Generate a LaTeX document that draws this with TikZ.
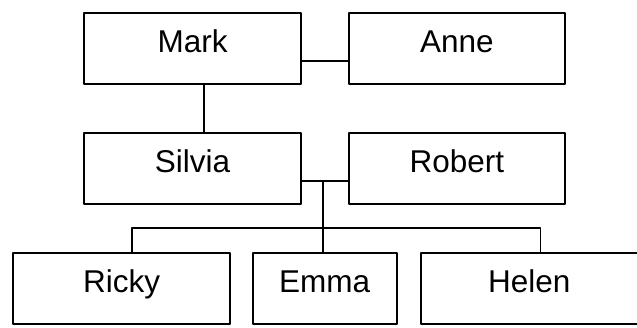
\documentclass[tikz,border=0pt]{standalone}
\usepackage{fontspec}
\setmainfont{Liberation Sans}
\begin{document}
\begin{tikzpicture}[x=1pt,y=-1pt,line join=round,
	person/.style={draw,line width=2pt,rectangle,inner sep=0pt,anchor=north west,
		minimum width=216.5pt,text height=40pt,text depth=31.6pt,
		font=\fontsize{31.5}{36}\selectfont},
	link/.style={line width=1.8pt}]
	\useasboundingbox (0,0) rectangle (637,327);
	% parents
	\node[person] (mark) at (83.3,11.7) {Mark};
	\node[person] (anne) at (347.7,11.7) {Anne};
	\node[person] (silvia) at (83.3,131.7) {Silvia};
	\node[person] (robert) at (347.7,131.7) {Robert};
	% children
	\node[person] (ricky) at (12.3,251.7) {Ricky};
	\node[person,minimum width=144pt] (emma) at (251.7,251.7) {Emma};
	\node[person] (helen) at (420,251.7) {Helen};
	% links
	\draw[link] ([yshift=-12.5pt]mark.east) -- ([yshift=-12.5pt]anne.west);
	\draw[link] ([xshift=11.6pt]mark.south) -- ([xshift=11.6pt]silvia.north);
	\draw[link] ([yshift=-12.3pt]silvia.east) -- ([yshift=-12.3pt]robert.west);
	\coordinate (fam) at (322.7,180);
	\coordinate (bar) at (0,227.7);
	\coordinate (rk) at ([xshift=10.7pt]ricky.north);
	\coordinate (hl) at ([xshift=11.2pt]helen.north);
	\draw[link] (fam) -- (fam |- emma.north);
	\draw[link] (rk) |- (bar -| hl) -- (hl);
\end{tikzpicture}
\end{document}
